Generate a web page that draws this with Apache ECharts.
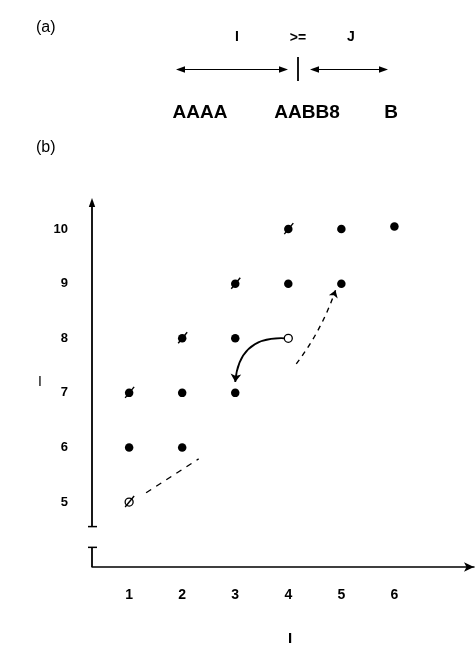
<!DOCTYPE html>
<html><head><meta charset="utf-8">
<script src="https://cdn.jsdelivr.net/npm/echarts@6/dist/echarts.min.js"></script>
<style>html,body{margin:0;padding:0;background:#fff}#c{width:475px;height:647px}</style>
</head><body><div id="c"></div>
<script>
// ---- data ----
const xTicks = [1, 2, 3, 4, 5, 6];
const yTicks = [5, 6, 7, 8, 9, 10];
const filledPoints = [[1,7],[1,6],[2,8],[2,7],[2,6],[3,9],[3,8],[3,7],[4,10],[4,9],[5,10],[5,9],[6,10.05]];
const openPoints = [[1,5],[4,8]];
const slashedPoints = [[1,7],[2,8],[3,9],[4,10],[1,5]];
const dashedLine = [[1.32,5.17],[2.31,5.79]];
const dashedArrow = [[4.15,7.53],[4.89,8.88]];
const curvedArrow = [[3.93,8.0],[3.0,7.2]];
const yBreak = [4.17, 4.55];
const xRange = [0.3, 7.5];
const yRange = [3.81, 10.57];
const topLabels = ['I', '>=', 'J'];
const stringLabels = ['AAAA', 'AABB8', 'B'];
const panelLabels = ['(a)', '(b)'];
const xName = 'I';
const yName = 'I';

const FONT = '"Liberation Sans", Arial, Helvetica, sans-serif';
const chart = echarts.init(document.getElementById('c'), null, {renderer: 'canvas'});

function arrowHead(x, y, dir) { // dir: -1 left, 1 right
  return {type: 'polygon', shape: {points: [[x, y], [x - dir*9, y - 3.2], [x - dir*9, y + 3.2]]}, style: {fill: '#000'}};
}

const graphic = [
  {type: 'text', x: 36, y: 28, style: {text: panelLabels[0], font: '16px ' + FONT, fill: '#000', verticalAlign: 'middle'}},
  {type: 'text', x: 36, y: 148, style: {text: panelLabels[1], font: '16px ' + FONT, fill: '#000', verticalAlign: 'middle'}},
  {type: 'text', x: 237, y: 37, style: {text: topLabels[0], font: 'bold 14px ' + FONT, fill: '#000', align: 'center', verticalAlign: 'middle'}},
  {type: 'text', x: 298, y: 38, style: {text: topLabels[1], font: 'bold 14px ' + FONT, fill: '#000', align: 'center', verticalAlign: 'middle'}},
  {type: 'text', x: 351, y: 37, style: {text: topLabels[2], font: 'bold 14px ' + FONT, fill: '#000', align: 'center', verticalAlign: 'middle'}},
  {type: 'line', shape: {x1: 178, y1: 69.5, x2: 285, y2: 69.5}, style: {stroke: '#000', lineWidth: 1.2}},
  arrowHead(176, 69.5, -1), arrowHead(288, 69.5, 1),
  {type: 'line', shape: {x1: 298, y1: 57, x2: 298, y2: 81}, style: {stroke: '#000', lineWidth: 1.8}},
  {type: 'line', shape: {x1: 312, y1: 69.5, x2: 385, y2: 69.5}, style: {stroke: '#000', lineWidth: 1.2}},
  arrowHead(310, 69.5, -1), arrowHead(388, 69.5, 1),
  {type: 'text', x: 200, y: 113, style: {text: stringLabels[0], font: 'bold 19px ' + FONT, fill: '#000', align: 'center', verticalAlign: 'middle'}},
  {type: 'text', x: 307, y: 113, style: {text: stringLabels[1], font: 'bold 19px ' + FONT, fill: '#000', align: 'center', verticalAlign: 'middle'}},
  {type: 'text', x: 391, y: 113, style: {text: stringLabels[2], font: 'bold 19px ' + FONT, fill: '#000', align: 'center', verticalAlign: 'middle'}}
];

const option = {
  animation: false,
  backgroundColor: '#fff',
  graphic: graphic,
  grid: {left: 92, right: 1, top: 198, bottom: 80, containLabel: false, outerBoundsMode: 'none'},
  xAxis: {
    type: 'value', min: xRange[0], max: xRange[1],
    name: xName, nameLocation: 'middle', nameGap: 64,
    nameTextStyle: {fontFamily: FONT, fontSize: 15, fontWeight: 'bold', color: '#000', padding: [0, 0, 0, 14]},
    axisLine: {show: true, onZero: false, symbol: ['none', 'arrow'], symbolSize: [7, 10], lineStyle: {color: '#000', width: 1.5}},
    axisTick: {show: false},
    splitLine: {show: false},
    axisLabel: {customValues: xTicks, margin: 21, color: '#000', fontFamily: FONT, fontSize: 14, fontWeight: 'bold'}
  },
  yAxis: {
    type: 'value', min: yRange[0], max: yRange[1],
    name: yName, nameLocation: 'middle', nameGap: 50, nameRotate: 0,
    nameTextStyle: {fontFamily: FONT, fontSize: 14, color: '#000'},
    axisLine: {show: false},
    axisTick: {show: false},
    splitLine: {show: false},
    axisLabel: {customValues: yTicks, margin: 24, color: '#000', fontFamily: FONT, fontSize: 13, fontWeight: 'bold'}
  },
  series: [
    {
      type: 'custom', clip: false, silent: true, z: 1,
      data: [[xRange[0], yRange[0]]],
      renderItem: function (params, api) {
        const top = api.coord([xRange[0], yRange[1]]);
        const b1 = api.coord([xRange[0], yBreak[1]]);
        const b0 = api.coord([xRange[0], yBreak[0]]);
        const bot = api.coord([xRange[0], yRange[0]]);
        const st = {stroke: '#000', lineWidth: 1.8};
        return {type: 'group', children: [
          {type: 'line', shape: {x1: top[0], y1: top[1] + 6, x2: b1[0], y2: b1[1]}, style: st},
          {type: 'polygon', shape: {points: [[top[0], top[1]], [top[0] - 3.2, top[1] + 9], [top[0] + 3.2, top[1] + 9]]}, style: {fill: '#000'}},
          {type: 'line', shape: {x1: b1[0] - 4, y1: b1[1], x2: b1[0] + 5, y2: b1[1]}, style: {stroke: '#000', lineWidth: 1.5}},
          {type: 'line', shape: {x1: b0[0] - 4, y1: b0[1], x2: b0[0] + 5, y2: b0[1]}, style: {stroke: '#000', lineWidth: 1.5}},
          {type: 'line', shape: {x1: b0[0], y1: b0[1], x2: bot[0], y2: bot[1]}, style: st}
        ]};
      }
    },
    {
      type: 'scatter', symbol: 'circle', symbolSize: 8.5, z: 3,
      itemStyle: {color: '#000', opacity: 1}, data: filledPoints
    },
    {
      type: 'scatter', symbol: 'circle', symbolSize: 8, z: 3,
      itemStyle: {color: '#fff', borderColor: '#000', borderWidth: 1.3, opacity: 1}, data: openPoints
    },
    {
      type: 'custom', clip: false, silent: true, z: 4,
      data: slashedPoints,
      renderItem: function (params, api) {
        const c = api.coord([api.value(0), api.value(1)]);
        return {type: 'line', shape: {x1: c[0] - 4, y1: c[1] + 5, x2: c[0] + 5, y2: c[1] - 6}, style: {stroke: '#000', lineWidth: 1.4}};
      }
    },
    {
      type: 'lines', coordinateSystem: 'cartesian2d', z: 2,
      symbol: ['none', 'arrow'], symbolSize: 8,
      lineStyle: {color: '#000', width: 1.8, curveness: -0.48, opacity: 1},
      data: [{coords: curvedArrow}]
    },
    {
      type: 'lines', coordinateSystem: 'cartesian2d', z: 2,
      symbol: ['none', 'arrow'], symbolSize: 7,
      lineStyle: {color: '#000', width: 1.4, type: [5, 5], curveness: -0.08, opacity: 1},
      data: [{coords: dashedArrow}]
    },
    {
      type: 'lines', coordinateSystem: 'cartesian2d', z: 2,
      symbol: ['none', 'none'],
      lineStyle: {color: '#000', width: 1.4, type: [6, 6], curveness: 0, opacity: 1},
      data: [{coords: dashedLine}]
    }
  ]
};
chart.setOption(option);
</script>
</body></html>
